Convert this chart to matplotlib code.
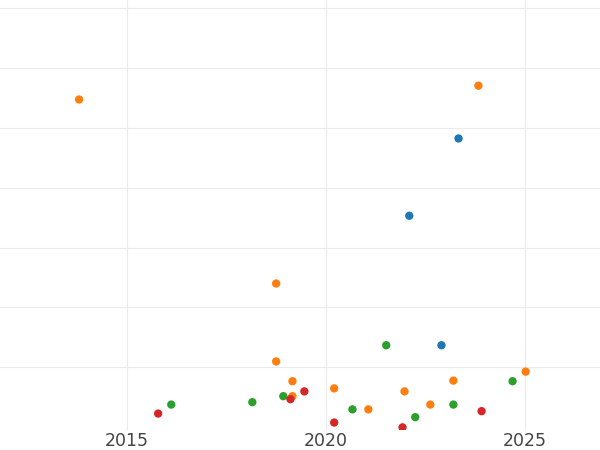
import matplotlib
matplotlib.use("Agg")
import matplotlib.pyplot as plt

orange_x = [2013.79, 2023.84, 2018.75, 2018.75, 2019.16, 2019.16, 2020.21, 2021.07, 2021.98, 2022.63, 2023.21, 2025.03]
orange_y = [5.47, 5.70, 2.40, 1.10, 0.77, 0.52, 0.65, 0.30, 0.60, 0.38, 0.78, 0.93]
blue_x = [2023.34, 2022.10, 2022.91]
blue_y = [4.82, 3.53, 1.37]
green_x = [2016.11, 2018.15, 2018.93, 2020.67, 2021.52, 2022.25, 2023.21, 2024.70]
green_y = [0.38, 0.42, 0.52, 0.30, 1.37, 0.17, 0.38, 0.77]
red_x = [2015.78, 2019.11, 2019.46, 2020.21, 2021.93, 2023.92]
red_y = [0.23, 0.47, 0.60, 0.08, 0.00, 0.27]
xticks = [2015, 2020, 2025]

fig = plt.figure(figsize=(6, 4.5), dpi=100)
ax = fig.add_axes([0, 0.045, 1, 0.955])
for xs, ys, c in [(blue_x, blue_y, "#1f77b4"), (orange_x, orange_y, "#ff7f0e"),
                  (green_x, green_y, "#2ca02c"), (red_x, red_y, "#d62728")]:
    ax.scatter(xs, ys, s=36, color=c, edgecolors="none", zorder=3)
ax.set_xlim(2011.8, 2026.9)
ax.set_ylim(-0.04, 7.13)
ax.set_xticks(xticks)
ax.set_xticklabels([str(t) for t in xticks])
ax.set_yticks(range(1, 8))
ax.tick_params(axis="y", left=False, labelleft=False)
ax.tick_params(axis="x", length=0, labelsize=12.5, colors="#444444", pad=1.5)
ax.grid(True, color="#ebebeb", linewidth=0.8)
for s in ax.spines.values():
    s.set_visible(False)
fig.savefig("out.png")
